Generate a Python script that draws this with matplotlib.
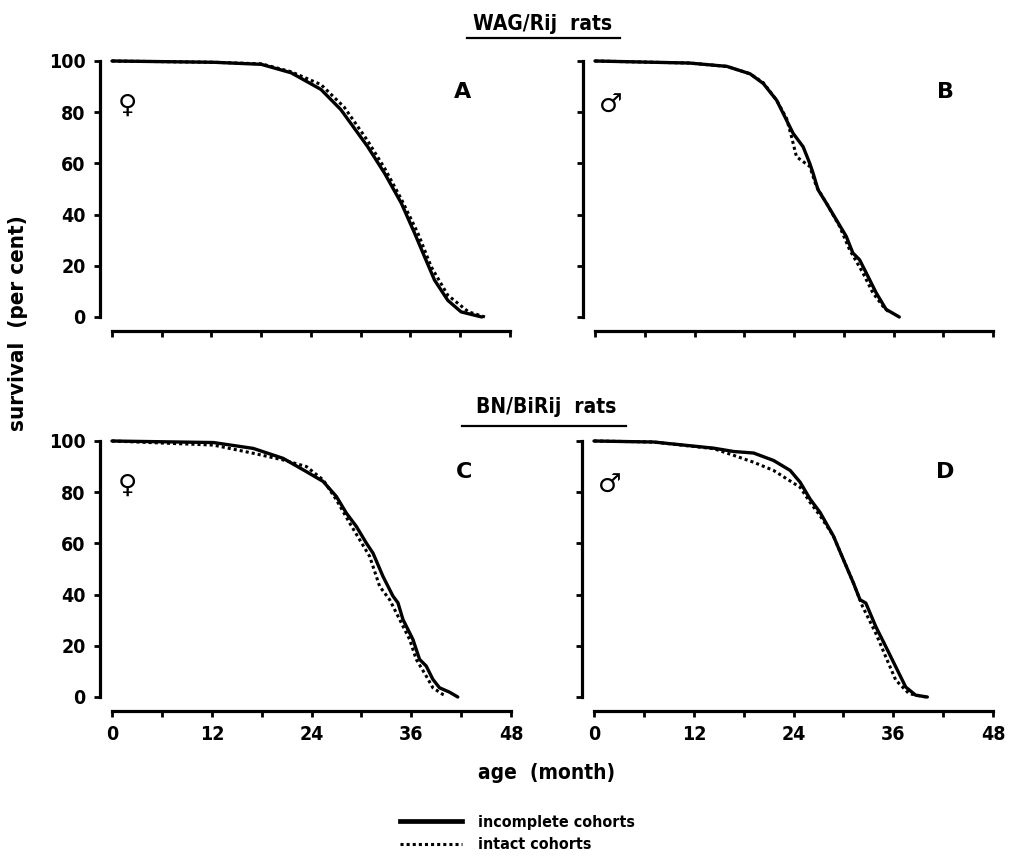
#!/usr/bin/env python3
"""Survival curves of WAG/Rij and BN/BiRij rats: incomplete vs intact cohorts."""

import matplotlib
matplotlib.use('Agg')
import matplotlib.pyplot as plt
from matplotlib.lines import Line2D

plt.rcParams['font.family'] = ['DejaVu Sans']
plt.rcParams['font.weight'] = 'bold'
plt.rcParams['font.stretch'] = 'condensed'

# --- data (age in months, survival in per cent) ---
# A: WAG/Rij females
a_inc_x = [0, 12.3, 18, 21.6, 25.2, 27.6, 30.8, 32.9, 34.9, 36.5, 37.7, 38.9, 40.5, 42.1, 44.6]
a_inc_y = [100, 99.5, 98.7, 95.4, 88.9, 81, 66.7, 56, 44.4, 32.7, 23.5, 14.4, 6.5, 2, 0]
a_int_x = [0, 12.3, 18, 21.6, 25.2, 28, 30.8, 32.9, 34.9, 36.9, 38.5, 40.5, 43, 45]
a_int_y = [100, 99.5, 98.9, 95.8, 90.8, 82, 69, 58, 46, 32.7, 19.6, 8.5, 2, 0]

# B: WAG/Rij males
b_inc_x = [0, 11.4, 15.9, 18.7, 20.3, 21.9, 23.1, 23.9, 25.1, 25.9, 26.3, 26.9, 27.9,
           29.1, 30.3, 31.1, 31.9, 32.7, 33.9, 35.1, 36.7]
b_inc_y = [100, 99.2, 97.9, 95, 91.2, 84.7, 76.9, 71.7, 66.5, 60, 56.2, 49.7, 44.5,
           38, 31.5, 25, 22.4, 17.3, 9.5, 3, 0]
b_int_x = [0, 11.4, 15.9, 18.7, 20.3, 21.9, 23.1, 23.7, 24.3, 25.1, 25.9, 26.7, 27.9,
           29.5, 30.7, 32.3, 33.5, 34.7, 35.5]
b_int_y = [100, 99.2, 97.9, 95, 91.5, 84.7, 77.6, 70.4, 62.6, 60.7, 58.8, 51, 44.5,
           35.4, 26.3, 17.3, 9.5, 4.3, 1.7]

# C: BN/BiRij females
c_inc_x = [0, 12.2, 17, 20.6, 23.4, 25.4, 27, 28.2, 29.4, 30.6, 31.4, 32.6, 33.8, 34.4,
           35, 36.2, 37, 37.8, 38.6, 39.4, 40.6, 41.6]
c_inc_y = [100, 99.4, 97.1, 93.2, 88, 84.2, 78.3, 71.8, 66.6, 60.1, 56.2, 47.1, 39.4, 36.8,
           30.3, 22.5, 14.7, 12.1, 6.9, 3.6, 1.9, 0]
c_int_x = [0, 12.2, 17, 20.6, 23.4, 25.4, 27, 28.6, 29.8, 31, 32.2, 33.4, 34.6, 35.8,
           36.6, 37.8, 38.6, 39.8, 40.2]
c_int_y = [100, 98.4, 95.2, 92.6, 90, 84.8, 77, 67.9, 61.4, 54.9, 43.2, 38, 30.3, 22.5,
           14.7, 8.2, 3.6, 1, 0.5]

# D: BN/BiRij males
d_inc_x = [0, 7.2, 14.4, 16.8, 19.2, 21.6, 23.6, 24.8, 26, 27.2, 28.8, 30, 31.2, 32, 32.7,
           33.9, 35.1, 36.3, 37.5, 38.7, 40.1]
d_inc_y = [100, 99.6, 97.2, 95.9, 95.3, 92.4, 88.5, 83.9, 77.3, 72.1, 62.9, 53.7, 44.6, 38,
           36.7, 27.5, 19.7, 11.8, 3.9, 0.7, 0]
d_int_x = [0, 7.2, 14.4, 16.8, 19.2, 21.6, 23.2, 24.8, 26, 27.2, 28.8, 30, 31.2, 32.3,
           33.9, 35.1, 36.3, 37.9, 39.9]
d_int_y = [100, 99.6, 97, 94.4, 91.7, 88.5, 85.2, 81.9, 76, 70.8, 62.9, 53.7, 44.6, 35.4,
           24.9, 15.7, 6.6, 1.3, 0]

panels = [
    ('A', '\u2640', a_inc_x, a_inc_y, a_int_x, a_int_y),
    ('B', '\u2642', b_inc_x, b_inc_y, b_int_x, b_int_y),
    ('C', '\u2640', c_inc_x, c_inc_y, c_int_x, c_int_y),
    ('D', '\u2642', d_inc_x, d_inc_y, d_int_x, d_int_y),
]
x_ticks = [0, 12, 24, 36, 48]
y_ticks = [0, 20, 40, 60, 80, 100]

W, H = 1009, 858
fig = plt.figure(figsize=(W / 100, H / 100), dpi=100)

# axes rectangles in pixel coordinates: (x of age 0, x of age 48, y of 100 %, y of 0 %)
rects = [(112, 510, 61, 317), (595, 993, 61, 317),
         (112, 511, 441, 697), (594, 993, 441, 697)]

for i, (letter, sex, xi, yi, xd, yd) in enumerate(panels):
    x0, x1, ytop, ybot = rects[i]
    ax = fig.add_axes([x0 / W, 1 - ybot / H, (x1 - x0) / W, (ybot - ytop) / H])
    ax.plot(xi, yi, color='black', lw=2.4, solid_capstyle='round', clip_on=False)
    ax.plot(xd, yd, color='black', lw=2.2, ls=(0, (1, 1)), clip_on=False)
    ax.set_xlim(0, 48)
    ax.set_ylim(0, 100)
    for s in ['top', 'right']:
        ax.spines[s].set_visible(False)
    ax.spines['left'].set_position(('outward', 9))
    ax.spines['bottom'].set_position(('outward', 10))
    ax.spines['left'].set_linewidth(2.3)
    ax.spines['bottom'].set_linewidth(2.3)
    ax.set_xticks(x_ticks)
    ax.set_xticks([6, 18, 30, 42], minor=True)
    ax.set_yticks(y_ticks)
    ax.tick_params(axis='both', which='both', direction='out', width=2, length=4,
                   labelsize=14, pad=6)
    if i in (1, 3):
        ax.set_yticklabels([])
    if i in (0, 1):
        ax.set_xticklabels([])
    ax.text(42.3, 88, letter, fontsize=16, fontweight='bold', fontstretch='normal',
            ha='center', va='center')
    ax.text(1.9, 82.5, sex, fontsize=19, fontstretch='normal', ha='center', va='center')

# group titles with underline
for txt, xc, yt, x_lo, x_hi, y_line in [('WAG/Rij  rats', 543, 24, 467, 620, 38),
                                        ('BN/BiRij  rats', 546, 407, 462, 626, 426)]:
    fig.text(xc / W, 1 - yt / H, txt, fontsize=15, ha='center', va='center')
    fig.add_artist(Line2D([x_lo / W, x_hi / W], [1 - y_line / H, 1 - y_line / H],
                          color='black', lw=1.6))

fig.text(18 / W, 1 - 323 / H, 'survival  (per cent)', rotation=90, fontsize=16,
         ha='center', va='center')
fig.text(547 / W, 1 - 773 / H, 'age  (month)', fontsize=15, ha='center', va='center')

handles = [Line2D([], [], color='black', lw=3.4),
           Line2D([], [], color='black', lw=2.2, ls=(0, (1, 1)))]
fig.legend(handles, ['incomplete cohorts', 'intact cohorts'], loc='upper left',
           bbox_to_anchor=(400 / W, 1 - 815 / H), frameon=False, fontsize=11.5,
           handlelength=3.9, labelspacing=0.45, handletextpad=1.0,
           borderpad=0, borderaxespad=0)

fig.savefig('out.png', dpi=100, facecolor='white')
